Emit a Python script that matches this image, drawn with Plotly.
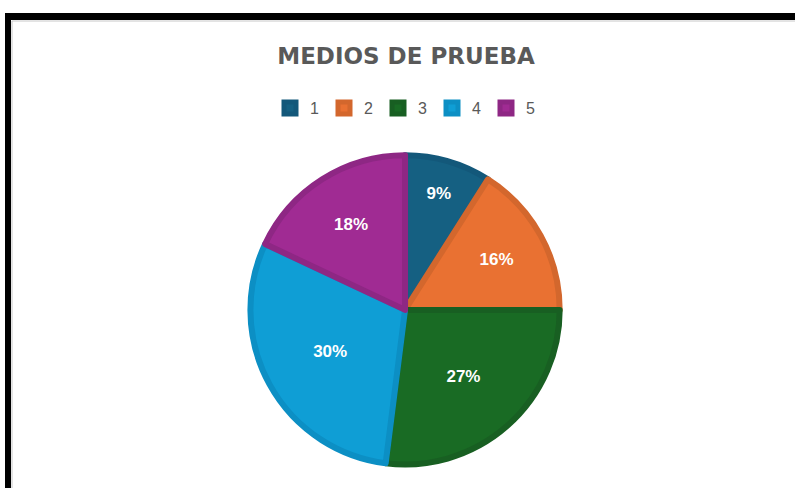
import plotly.graph_objects as go

# slices of the chart
labels = ["1", "2", "3", "4", "5"]
values = [9, 16, 27, 30, 18]
colors = ["#156082", "#E97132", "#196B24", "#0F9ED5", "#A02B93"]
edge_colors = ["#13587A", "#D3672D", "#185F22", "#0C8FC4", "#8E2784"]

W, H = 795, 488

fig = go.Figure(go.Pie(
    labels=labels,
    values=values,
    sort=False,
    direction="clockwise",
    rotation=0,
    marker=dict(colors=colors, line=dict(color=edge_colors, width=6)),
    texttemplate="%{percent:.0%}",
    textposition="inside",
    insidetextorientation="horizontal",
    textfont=dict(family="Liberation Sans", size=17, color="white", weight="bold"),
    hoverinfo="label+percent",
    domain=dict(x=[0.315, 0.704], y=[0.047, 0.683]),
))

# frame around the chart (black bars on top and left)
shapes = [
    dict(type="rect", xref="paper", yref="paper", x0=5 / W, x1=1.0,
         y0=1 - 20 / H, y1=1 - 13 / H, fillcolor="black", line_width=0, layer="above"),
    dict(type="rect", xref="paper", yref="paper", x0=5 / W, x1=11 / W,
         y0=0, y1=1 - 13 / H, fillcolor="black", line_width=0, layer="above"),
    dict(type="line", xref="paper", yref="paper", x0=12 / W, x1=1.0,
         y0=1 - 21 / H, y1=1 - 21 / H, line=dict(color="#C8C8C8", width=1)),
    dict(type="line", xref="paper", yref="paper", x0=12 / W, x1=12 / W,
         y0=0, y1=1 - 21 / H, line=dict(color="#C8C8C8", width=1)),
]

fig.update_layout(
    width=W, height=H,
    margin=dict(l=0, r=0, t=0, b=0),
    paper_bgcolor="white",
    plot_bgcolor="white",
    shapes=shapes,
    title=dict(text="<b>MEDIOS DE PRUEBA</b>", x=406 / W, xanchor="center",
               y=1 - 56 / H, yanchor="middle",
               font=dict(family="DejaVu Sans", size=23, color="#595959")),
    legend=dict(orientation="h", x=405 / W, xanchor="center",
                y=1 - 108 / H, yanchor="middle",
                font=dict(family="Liberation Sans", size=16, color="#595959"),
                itemwidth=30, tracegroupgap=0),
    showlegend=True,
)

# the page's default body margin would shift the figure by 8px
fig.write_html("out.html", config={"displayModeBar": False},
               post_script="document.body.style.margin='0';")
